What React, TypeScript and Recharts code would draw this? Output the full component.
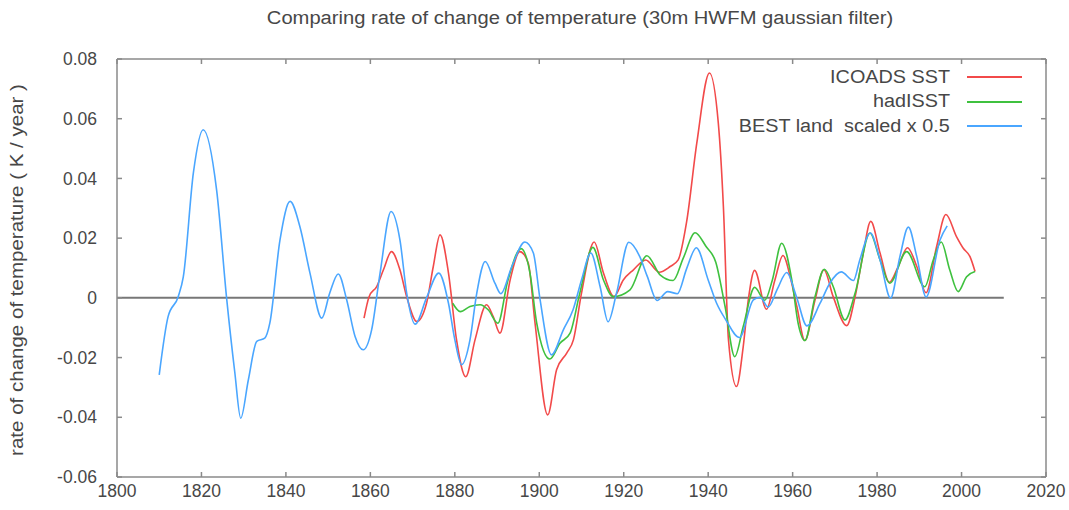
import React from 'react'
import { LineChart, Line, XAxis, YAxis, ReferenceLine } from 'recharts'

// ICOADS SST rate of change
const icoadsYears = [
  1858.5, 1859.7, 1861.5, 1863.1, 1865.0, 1867.0, 1868.6, 1871.0, 1873.3, 1874.9,
  1876.5, 1878.5, 1880.4, 1882.6, 1884.8, 1887.5, 1889.1, 1890.7, 1893.1, 1895.4,
  1897.4, 1899.0, 1902.0, 1904.1, 1906.5, 1908.1, 1910.0, 1913.0, 1915.2, 1917.7,
  1919.9, 1922.3, 1925.2, 1928.4, 1931.0, 1932.9, 1934.9, 1937.3, 1940.3, 1942.4,
  1943.6, 1944.8, 1946.7, 1948.3, 1949.5, 1951.0, 1953.8, 1955.8, 1957.7, 1959.6,
  1961.0, 1962.9, 1965.3, 1967.4, 1969.6, 1972.8, 1974.8, 1976.6, 1978.5, 1980.7,
  1982.9, 1985.0, 1987.2, 1989.4, 1991.6, 1994.1, 1996.3, 1998.8, 2000.4, 2002.0,
  2003.2,
]
const icoadsValues = [
  -0.0068, 0.0004, 0.0038, 0.0094, 0.0155, 0.0094, 0.0004, -0.0079, -0.0018, 0.0105,
  0.0211, 0.0083, -0.014, -0.0264, -0.014, -0.0023, -0.0063, -0.0118, 0.006, 0.0155,
  0.0116, -0.0085, -0.0392, -0.0241, -0.0185, -0.014, 0.0016, 0.0187, 0.0083, 0.0004,
  0.006, 0.0094, 0.0127, 0.0086, 0.0105, 0.0127, 0.0255, 0.0518, 0.0753, 0.0585,
  0.0306, -0.014, -0.0297, -0.0163, -0.0007, 0.0092, -0.0038, 0.006, 0.0142, 0.006,
  -0.0029, -0.0143, -0.0007, 0.0094, 0.0004, -0.0093, 0.0004, 0.014, 0.0256, 0.015,
  0.0052, 0.0105, 0.0168, 0.0105, 0.0017, 0.0172, 0.0279, 0.0205, 0.0166, 0.0138,
  0.0088,
]

// hadISST rate of change
const hadYears = [
  1879.5, 1881.3, 1883.6, 1886.0, 1887.9, 1890.2, 1892.5, 1895.7, 1897.8, 1899.4,
  1902.5, 1904.9, 1907.3, 1909.6, 1912.7, 1915.2, 1917.5, 1921.5, 1925.5, 1928.6,
  1931.7, 1934.1, 1936.9, 1939.5, 1941.8, 1944.0, 1946.3, 1948.3, 1951.0, 1953.4,
  1955.2, 1957.4, 1959.8, 1961.3, 1962.9, 1965.3, 1967.5, 1969.6, 1972.4, 1974.8,
  1978.3, 1980.7, 1983.0, 1987.0, 1991.3, 1993.3, 1995.2, 1997.2, 1999.2, 2001.2,
  2003.2,
]
const hadValues = [
  -0.0018, -0.0046, -0.0029, -0.0023, -0.004, -0.0085, 0.0055, 0.0165, 0.0083, -0.0085,
  -0.0205, -0.0152, -0.0118, 0.0016, 0.0169, 0.006, 0.0004, 0.0027, 0.0141, 0.0077,
  0.0058, 0.0133, 0.0218, 0.0172, 0.0119, -0.0029, -0.0197, -0.0096, 0.0035, -0.0008,
  0.006, 0.0183, 0.006, -0.0085, -0.0143, 0.0004, 0.0096, 0.0038, -0.0074, 0.0016,
  0.0217, 0.0127, 0.0049, 0.0155, 0.0037, 0.0127, 0.0187, 0.0094, 0.0021, 0.0071,
  0.0088,
]

// BEST land, scaled x 0.5
const bestYears = [
  1810.0, 1812.1, 1814.5, 1815.7, 1818.1, 1820.4, 1823.6, 1826.0, 1827.9, 1829.3,
  1831.1, 1833.1, 1835.0, 1836.2, 1838.6, 1841.0, 1843.3, 1845.7, 1848.5, 1850.4,
  1852.4, 1854.4, 1856.4, 1858.3, 1860.3, 1862.3, 1864.9, 1867.0, 1868.6, 1870.6,
  1873.3, 1876.2, 1878.5, 1880.0, 1881.6, 1883.6, 1885.2, 1887.2, 1889.5, 1890.9,
  1893.5, 1896.6, 1898.6, 1900.2, 1902.9, 1905.7, 1908.0, 1910.0, 1912.2, 1914.4,
  1916.3, 1918.3, 1921.2, 1923.8, 1925.6, 1927.9, 1930.4, 1932.7, 1934.9, 1937.2,
  1940.0, 1942.0, 1944.2, 1947.4, 1950.7, 1952.3, 1954.2, 1956.4, 1958.6, 1960.9,
  1963.4, 1966.5, 1968.8, 1971.5, 1974.4, 1975.9, 1978.4, 1980.7, 1983.2, 1985.4,
  1987.4, 1989.4, 1991.6, 1994.9, 1996.6,
]
const bestValues = [
  -0.0258, -0.0063, 0.0004, 0.007, 0.042, 0.0563, 0.036, -0.0007, -0.025, -0.0403,
  -0.0275, -0.0146, -0.0135, -0.0084, 0.0194, 0.0323, 0.0239, 0.0083, -0.0068, 0.0017,
  0.008, -0.0007, -0.013, -0.0174, -0.0107, 0.0083, 0.0289, 0.0194, 0.0016, -0.0088,
  0.0, 0.0083, -0.0018, -0.014, -0.0224, -0.014, 0.0016, 0.0122, 0.0049, 0.0014,
  0.0105, 0.0187, 0.015, -0.0007, -0.0191, -0.0107, -0.004, 0.006, 0.015, 0.0038,
  -0.008, 0.0016, 0.0186, 0.0138, 0.0071, -0.0009, 0.0021, 0.0014, 0.0098, 0.0168,
  0.006, -0.0018, -0.0074, -0.0133, -0.0007, 0.0002, -0.0031, 0.003, 0.0085, 0.0004,
  -0.0094, -0.0018, 0.0049, 0.0087, 0.0058, 0.0127, 0.0217, 0.0127, -0.0001, 0.0138,
  0.0237, 0.0138, 0.0003, 0.0194, 0.0241,
]

const xTicks = [1800, 1820, 1840, 1860, 1880, 1900, 1920, 1940, 1960, 1980, 2000, 2020]
const yTicks = [-0.06, -0.04, -0.02, 0, 0.02, 0.04, 0.06, 0.08]

const seriesNames = ['ICOADS SST', 'hadISST', 'BEST land  scaled x 0.5']
const seriesColors = ['#f24a4a', '#3fc13f', '#4aa6ff']

const toRows = (years: number[], values: number[]) =>
  years.map((year, i) => ({ year, value: values[i] }))

const icoadsData = toRows(icoadsYears, icoadsValues)
const hadData = toRows(hadYears, hadValues)
const bestData = toRows(bestYears, bestValues)

const font = '"Liberation Sans", Arial, sans-serif'
const textColor = '#474747'
const tickStyle = { fontSize: 17.5, fill: textColor, fontFamily: font }
const frameColor = '#8a8a8a'

function LegendBox() {
  return (
    <div
      style={{
        position: 'absolute',
        top: 65,
        left: 560,
        width: 462,
        fontFamily: font,
        fontSize: 18,
        color: textColor,
      }}
    >
      {seriesNames.map((name, i) => (
        <div
          key={name}
          style={{ display: 'flex', alignItems: 'center', justifyContent: 'flex-end', height: 24.5 }}
        >
          <span
            style={{
              whiteSpace: 'pre',
              display: 'inline-block',
              transform: 'scaleX(1.1)',
              transformOrigin: 'right center',
            }}
          >
            {name}
          </span>
          <span
            style={{
              display: 'inline-block',
              width: 55,
              height: 2,
              marginLeft: 17,
              background: seriesColors[i],
            }}
          />
        </div>
      ))}
    </div>
  )
}

export default function App() {
  return (
    <div style={{ position: 'absolute', left: 0, top: 0, width: 1069, height: 510, background: '#fff' }}>
      <div
        style={{
          position: 'absolute',
          top: 8,
          left: 580,
          transform: 'translateX(-50%) scaleX(1.12)',
          whiteSpace: 'nowrap',
          fontFamily: font,
          fontSize: 18,
          color: textColor,
        }}
      >
        Comparing rate of change of temperature (30m HWFM gaussian filter)
      </div>
      <div
        style={{
          position: 'absolute',
          left: 17,
          top: 270,
          transform: 'translate(-50%, -50%) rotate(-90deg) scaleX(1.14)',
          whiteSpace: 'nowrap',
          fontFamily: font,
          fontSize: 18,
          color: textColor,
        }}
      >
        rate of change of temperature ( K / year )
      </div>
      <LineChart
        width={1069}
        height={510}
        margin={{ top: 58, right: 22, bottom: 3, left: 57 }}
        style={{ position: 'absolute', left: 0, top: 0 }}
      >
        <XAxis
          dataKey="year"
          type="number"
          domain={[1800, 2020]}
          ticks={xTicks}
          allowDataOverflow
          height={30}
          tickSize={-5}
          tickMargin={13}
          tick={tickStyle}
          stroke={frameColor}
          strokeWidth={1.5}
        />
        <XAxis
          xAxisId="top"
          orientation="top"
          dataKey="year"
          type="number"
          domain={[1800, 2020]}
          ticks={xTicks}
          allowDataOverflow
          height={1}
          tickSize={-5}
          tickFormatter={() => ''}
          stroke={frameColor}
          strokeWidth={1.5}
        />
        <YAxis
          type="number"
          domain={[-0.06, 0.08]}
          ticks={yTicks}
          allowDataOverflow
          width={60}
          tickSize={-5}
          tickMargin={25}
          tick={tickStyle}
          tickFormatter={(v: number) => (v === 0 ? '0' : v.toFixed(2))}
          stroke={frameColor}
          strokeWidth={1.5}
        />
        <YAxis
          yAxisId="right"
          orientation="right"
          type="number"
          domain={[-0.06, 0.08]}
          ticks={yTicks}
          allowDataOverflow
          width={1}
          tickSize={-5}
          tickFormatter={() => ''}
          stroke={frameColor}
          strokeWidth={1.5}
        />
        <ReferenceLine
          segment={[
            { x: 1800, y: 0 },
            { x: 2010, y: 0 },
          ]}
          stroke="#777"
          strokeWidth={2}
        />
        {/* invisible series so the top/right frame axes get drawn */}
        <Line
          data={bestData}
          dataKey="value"
          xAxisId="top"
          yAxisId="right"
          stroke="none"
          dot={false}
          legendType="none"
          isAnimationActive={false}
        />
        <Line
          data={icoadsData}
          dataKey="value"
          name={seriesNames[0]}
          type="monotone"
          stroke={seriesColors[0]}
          strokeWidth={1.6}
          dot={false}
          isAnimationActive={false}
        />
        <Line
          data={hadData}
          dataKey="value"
          name={seriesNames[1]}
          type="monotone"
          stroke={seriesColors[1]}
          strokeWidth={1.6}
          dot={false}
          isAnimationActive={false}
        />
        <Line
          data={bestData}
          dataKey="value"
          name={seriesNames[2]}
          type="monotone"
          stroke={seriesColors[2]}
          strokeWidth={1.6}
          dot={false}
          isAnimationActive={false}
        />
      </LineChart>
      <LegendBox />
    </div>
  )
}
